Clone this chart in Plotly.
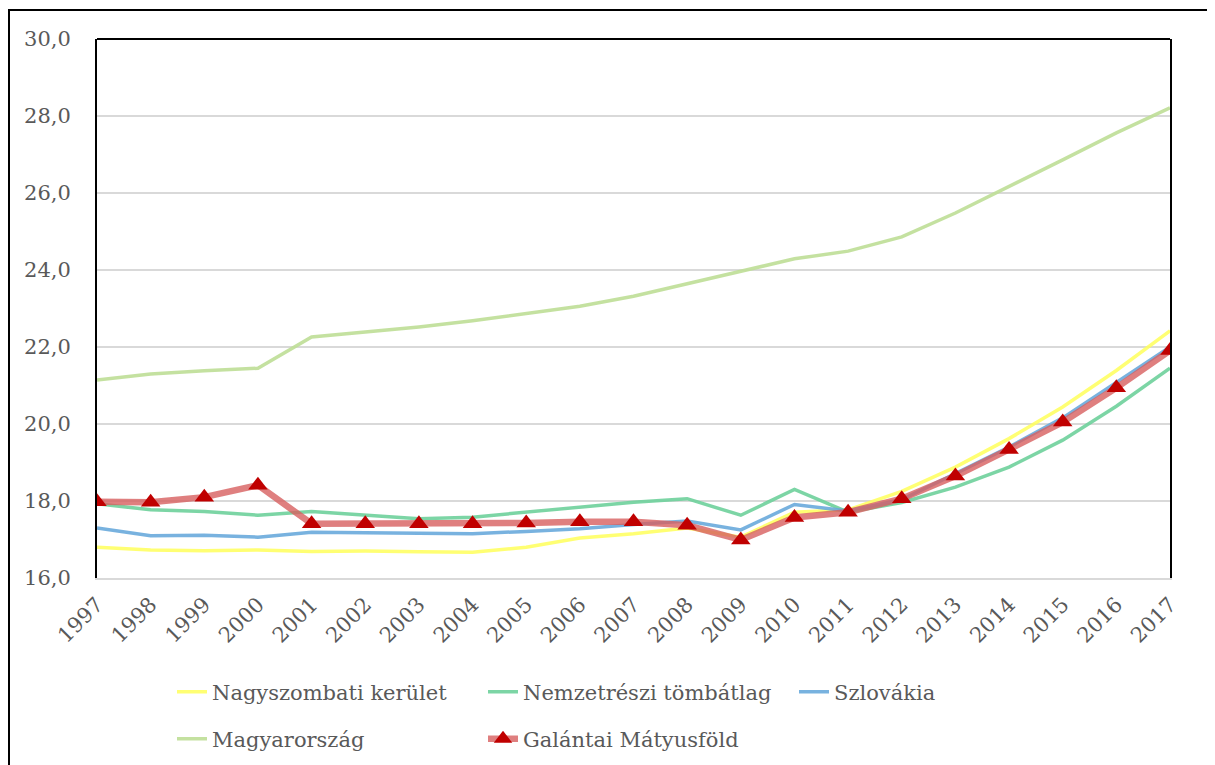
import plotly.graph_objects as go

years = list(range(1997, 2018))
nagyszombati = [16.80, 16.73, 16.71, 16.73, 16.69, 16.70, 16.68, 16.67, 16.80, 17.04,
                17.15, 17.30, 17.06, 17.71, 17.77, 18.25, 18.88, 19.62, 20.44, 21.39, 22.42]
nemzetreszi = [17.93, 17.77, 17.73, 17.63, 17.73, 17.64, 17.54, 17.58, 17.71, 17.86,
               17.97, 18.06, 17.63, 18.30, 17.71, 17.96, 18.36, 18.88, 19.58, 20.46, 21.45]
szlovakia = [17.30, 17.10, 17.11, 17.06, 17.19, 17.17, 17.15, 17.15, 17.21, 17.28,
             17.39, 17.48, 17.25, 17.91, 17.74, 18.04, 18.71, 19.40, 20.16, 21.09, 22.00]
magyarorszag = [21.14, 21.30, 21.38, 21.45, 22.26, 22.39, 22.52, 22.68, 22.86, 23.06,
                23.32, 23.64, 23.97, 24.29, 24.49, 24.86, 25.48, 26.16, 26.86, 27.56, 28.21]
galantai = [17.98, 17.97, 18.10, 18.41, 17.41, 17.41, 17.41, 17.41, 17.43, 17.46,
            17.46, 17.37, 16.99, 17.57, 17.71, 18.06, 18.65, 19.34, 20.05, 20.94, 21.91]

names = ["Nagyszombati kerület", "Nemzetrészi tömbátlag", "Szlovákia",
         "Magyarország", "Galántai Mátyusföld"]

FONT = "DejaVu Serif"
GRAY = "#595959"

fig = go.Figure()
fig.add_trace(go.Scatter(x=years, y=magyarorszag, name=names[3], mode="lines",
                         line=dict(color="rgba(190,222,150,0.9)", width=3.5), legend="legend4"))
fig.add_trace(go.Scatter(x=years, y=nagyszombati, name=names[0], mode="lines",
                         line=dict(color="rgba(255,255,90,0.85)", width=3.5), legend="legend"))
fig.add_trace(go.Scatter(x=years, y=nemzetreszi, name=names[1], mode="lines",
                         line=dict(color="rgba(110,208,155,0.9)", width=3.5), legend="legend2"))
fig.add_trace(go.Scatter(x=years, y=szlovakia, name=names[2], mode="lines",
                         line=dict(color="rgba(105,170,220,0.9)", width=3.5), legend="legend3"))
fig.add_trace(go.Scatter(x=years, y=galantai, name=names[4], mode="lines+markers",
                         line=dict(color="rgba(215,95,95,0.8)", width=6.5),
                         marker=dict(symbol="triangle-up", size=17, color="#C00000"),
                         legend="legend5"))

W, H = 1215, 765
OX, OY = 7, 8  # page offset observed in the screenshot
# plot area in reference pixels: x 96..1169, y 39..578
L = 96 - OX
T = 39 - OY
pw = 1169 - 96
ph = 578 - 39
R = W - L - pw
B = H - T - ph


def cx(x):
    return (x - OX) / W


def cy(y):
    return 1 - (y - OY) / H


def px_x(x):
    return (x - 96) / pw


def px_y(y):
    return (578 - y) / ph


leg_common = dict(orientation="h", xanchor="left", yanchor="middle",
                  xref="container", yref="container",
                  font=dict(family=FONT, size=21, color=GRAY),
                  bgcolor="rgba(0,0,0,0)", borderwidth=0, itemwidth=30)

fig.update_layout(
    width=W, height=H,
    margin=dict(l=L, r=R, t=T, b=B, autoexpand=False),
    paper_bgcolor="white", plot_bgcolor="white",
    separators=", ",
    font=dict(family=FONT),
    showlegend=True,
    legend=dict(x=cx(171), y=cy(692), **leg_common),
    legend2=dict(x=cx(482), y=cy(692), **leg_common),
    legend3=dict(x=cx(793), y=cy(692), **leg_common),
    legend4=dict(x=cx(171), y=cy(739), **leg_common),
    legend5=dict(x=cx(482), y=cy(739), **leg_common),
    xaxis=dict(range=[1997, 2017], tickmode="array", tickvals=years,
               ticktext=[str(y) for y in years], tickangle=-45,
               tickfont=dict(family=FONT, size=21, color=GRAY),
               showgrid=False, zeroline=False, automargin=False,
               showline=True, linecolor="#d9d9d9", linewidth=2, ticks="",
               ticklabelstandoff=4),
    yaxis=dict(range=[16, 30], dtick=2, tickformat=".1f",
               tickfont=dict(family=FONT, size=21, color=GRAY),
               showgrid=True, gridcolor="#d9d9d9", gridwidth=1.5, automargin=False,
               zeroline=False, showline=True, linecolor="black", linewidth=2,
               mirror=True, ticks="", ticklabelstandoff=20),
    shapes=[
        dict(type="line", xref="paper", yref="paper", x0=0, x1=1, y0=1, y1=1,
             line=dict(color="black", width=2)),
        dict(type="rect", xref="paper", yref="paper",
             x0=px_x(8), x1=px_x(1240), y0=px_y(800), y1=px_y(10),
             line=dict(color="black", width=2), fillcolor="rgba(0,0,0,0)"),
    ],
)

fig.write_html("out.html")
